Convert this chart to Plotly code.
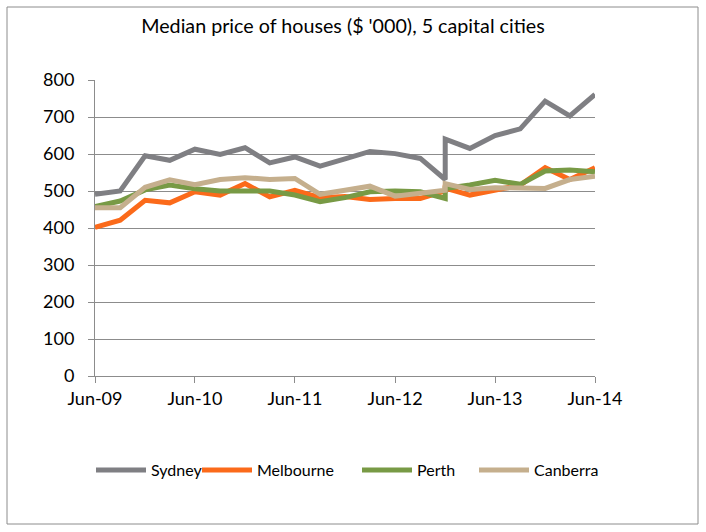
import plotly.graph_objects as go

quarters = ["2009-06-01", "2009-09-01", "2009-12-01", "2010-03-01", "2010-06-01", "2010-09-01",
            "2010-12-01", "2011-03-01", "2011-06-01", "2011-09-01", "2011-12-01", "2012-03-01",
            "2012-06-01", "2012-09-01", "2012-12-01", "2012-12-01", "2013-03-01", "2013-06-01",
            "2013-09-01", "2013-12-01", "2014-03-01", "2014-06-01"]

sydney = [491, 500, 595, 583, 613, 599, 617, 576, 592, 567, 587, 607, 601, 588, 531, 640,
          615, 650, 668, 743, 703, 761]
melbourne = [402, 421, 475, 468, 498, 489, 520, 484, 502, 482, 485, 477, 480, 480, 500, 508,
             489, 502, 516, 563, 531, 563]
perth = [458, 473, 503, 516, 506, 500, 500, 500, 489, 471, 482, 498, 500, 498, 480, 507,
         516, 529, 518, 554, 557, 552]
canberra = [455, 455, 510, 530, 517, 531, 536, 531, 534, 491, 502, 513, 486, 493, 502, 520,
            504, 509, 507, 507, 531, 540]

tick_vals = ["2009-06-01", "2010-06-01", "2011-06-01", "2012-06-01", "2013-06-01", "2014-06-01"]
tick_text = ["Jun-09", "Jun-10", "Jun-11", "Jun-12", "Jun-13", "Jun-14"]

series = [
    ("Sydney", sydney, "#7f7f83"),
    ("Melbourne", melbourne, "#fb6a1a"),
    ("Perth", perth, "#789a45"),
    ("Canberra", canberra, "#c5af8d"),
]
legend_ids = ["legend", "legend2", "legend3", "legend4"]
legend_x_px = [91, 197, 357, 474]

FONT = "Lato"
fig = go.Figure()
for (name, vals, col), lid in zip(series, legend_ids):
    fig.add_trace(go.Scatter(x=quarters, y=vals, name=name, mode="lines",
                             line=dict(color=col, width=5), legend=lid))

grid = "#8c8c8c"
legends = {}
for lid, lx in zip(legend_ids, legend_x_px):
    legends[lid] = dict(orientation="h", xref="container", x=lx / 706, xanchor="left",
                        yref="container", y=1 - 470 / 532, yanchor="middle",
                        font=dict(family=FONT, size=16, color="#000000"), itemwidth=50,
                        bgcolor="rgba(0,0,0,0)")

fig.update_layout(
    width=706, height=532,
    margin=dict(l=95, r=111, t=80, b=156, autoexpand=False),
    paper_bgcolor="white", plot_bgcolor="white",
    font=dict(family=FONT, size=16, color="#000000"),
    title=dict(text="Median price of houses ($ '000), 5 capital cities",
               xref="container", x=343 / 706, xanchor="center",
               yref="container", y=1 - 26 / 532, yanchor="middle",
               font=dict(family=FONT, size=19.7, color="#000000")),
    showlegend=True,
    xaxis=dict(type="date", range=["2009-06-01", "2014-06-01"], tickmode="array",
               tickvals=tick_vals, ticktext=tick_text, showgrid=False,
               showline=True, linecolor=grid, linewidth=1, ticks="outside",
               ticklen=6, tickcolor=grid, zeroline=False,
               tickfont=dict(family=FONT, size=18)),
    yaxis=dict(range=[0, 800], dtick=100, tick0=0, showgrid=True, gridcolor=grid, gridwidth=1,
               showline=True, linecolor=grid, linewidth=1, ticks="outside", ticklen=6,
               tickcolor=grid, zeroline=False, ticklabelstandoff=10,
               tickfont=dict(family=FONT, size=18)),
    shapes=[dict(type="rect", xref="paper", yref="paper",
                 x0=(7 - 95) / 500, x1=(698 - 95) / 500,
                 y0=(376 - 524) / 296, y1=(376 - 7) / 296,
                 line=dict(color="#8c8c8c", width=1), fillcolor="rgba(0,0,0,0)", layer="below")],
    **legends,
)

fig.write_html("out.html", config={"displayModeBar": False},
               post_script="document.body.style.margin='0px';")
